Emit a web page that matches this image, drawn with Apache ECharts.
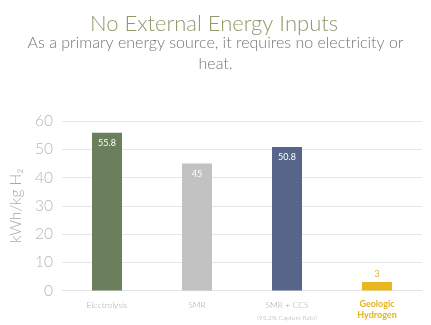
<!DOCTYPE html>
<html><head><meta charset="utf-8">
<script src="https://cdn.jsdelivr.net/npm/echarts@6/dist/echarts.min.js"></script>
<style>html,body{margin:0;padding:0;background:#fff}#c{width:431px;height:325px}</style>
</head><body><div id="c"></div>
<script>
const categories = ['Electrolysis', 'SMR', 'SMR + CCS', 'Geologic Hydrogen'];
const values = [55.8, 45, 50.8, 3];
const barColors = ['#6b7f5c', '#c2c2c2', '#56658a', '#e9b820'];
const yTicks = [0, 10, 20, 30, 40, 50, 60];
const subNotes = ['', '', '(95.2% Capture Rate)', ''];
const subtitleLines = ['As a primary energy source, it requires no electricity or', 'heat.'];

const FONT = 'Lato';
const chart = echarts.init(document.getElementById('c'), null, {renderer: 'canvas'});
chart.setOption({
  animation: false,
  backgroundColor: '#fff',
  title: {
    text: 'No External Energy Inputs',
    left: 209, top: 8,
    textStyle: {color: '#8f9a6c', fontSize: 22, fontWeight: 300, fontFamily: FONT},
    textAlign: 'center'
  },
  graphic: subtitleLines.map((t, i) => ({
    type: 'text', left: 'center', top: 35 + i * 21,
    style: {text: t, fill: '#757575', fontSize: 16, fontWeight: 300, fontFamily: FONT}
  })),
  grid: {left: 61, right: 9, top: 121, bottom: 34.5},
  xAxis: {
    type: 'category',
    data: categories,
    axisLine: {show: true, lineStyle: {color: '#e3e3e3'}},
    axisTick: {show: false},
    axisLabel: {
      interval: 0, margin: 8,
      fontFamily: FONT,
      formatter: function (v, i) {
        if (v === 'Geologic Hydrogen') return '{g|Geologic}\n{g|Hydrogen}';
        if (subNotes[i]) return '{n|' + v + '}\n{s|' + subNotes[i] + '}';
        return '{n|' + v + '}';
      },
      rich: {
        n: {color: '#a8a8a8', fontSize: 8.5, fontFamily: FONT, fontWeight: 300, lineHeight: 13},
        s: {color: '#a8a8a8', fontSize: 6.5, fontFamily: FONT, fontWeight: 300, lineHeight: 12},
        g: {color: '#e3b422', fontSize: 9, fontFamily: FONT, fontWeight: 'bold', lineHeight: 11}
      }
    }
  },
  yAxis: {
    type: 'value',
    min: yTicks[0], max: yTicks[yTicks.length - 1], interval: 10,
    name: 'kWh/kg H₂',
    nameLocation: 'middle', nameGap: 38,
    nameTextStyle: {color: '#a9a9a9', fontSize: 15.5, fontFamily: FONT, fontWeight: 300},
    axisLine: {show: false},
    axisTick: {show: false},
    axisLabel: {color: '#b5b5b5', fontSize: 15.5, fontFamily: FONT, fontWeight: 300, margin: 9},
    splitLine: {lineStyle: {color: '#e6e6e6', width: 1}}
  },
  series: [{
    type: 'bar',
    barWidth: 30,
    data: values.map((v, i) => ({
      value: v,
      itemStyle: {color: barColors[i]},
      label: i === 3
        ? {show: true, position: 'top', distance: 3, color: '#e3b422', fontSize: 9, fontFamily: FONT}
        : {show: true, position: 'insideTop', distance: 6, color: '#ffffff', fontSize: 9, fontFamily: FONT}
    }))
  }]
});
</script></body></html>
